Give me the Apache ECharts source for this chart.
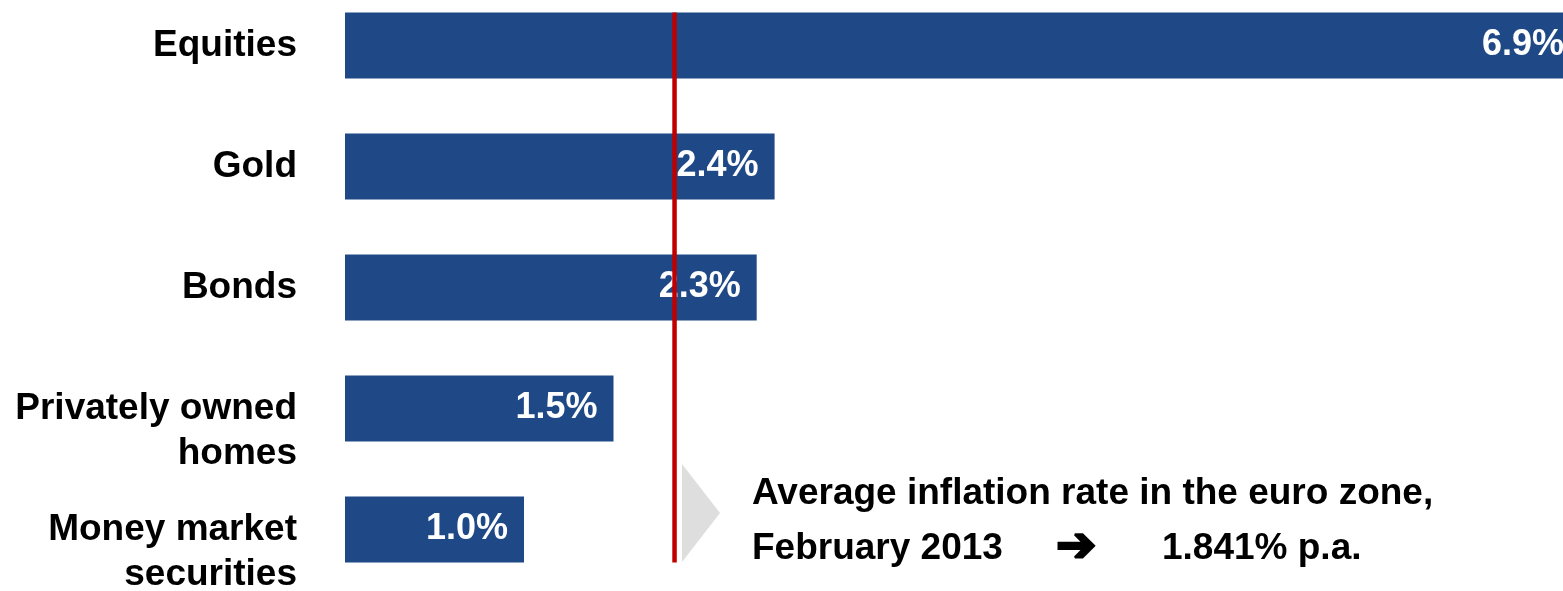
<!DOCTYPE html>
<html>
<head>
<meta charset="utf-8">
<script src="https://cdn.jsdelivr.net/npm/echarts@6/dist/echarts.min.js"></script>
<style>
  html, body { margin: 0; padding: 0; background: #ffffff; }
  #chart { width: 1563px; height: 591px; }
</style>
</head>
<body>
<div id="chart"></div>
<script>
// Average annual returns by asset class (% p.a.)
const categories = ['Equities', 'Gold', 'Bonds', 'Privately owned\nhomes', 'Money market\nsecurities'];
const returns = [6.9, 2.4, 2.3, 1.5, 1.0];

// Euro-zone inflation reference
const inflationRate = 1.841;
const inflationPeriod = 'February 2013';
const inflationTitle = 'Average inflation rate in the euro zone,';

const FONT = '"Liberation Sans", Arial, Helvetica, sans-serif';
const BAR_COLOR = '#1F4986';
const GRID_TOP = -15;
const GRID_H = 605;
const BAR_W = 66;

// The reference line spans from the top of the first bar to the bottom of the last one
const band = GRID_H / categories.length;
const halfBar = BAR_W / 2 / band;
const lineTop = 0.5 - halfBar;
const lineBottom = categories.length - 0.5 + halfBar;

const chart = echarts.init(document.getElementById('chart'), null, { renderer: 'canvas' });

chart.setOption({
  animation: false,
  backgroundColor: '#ffffff',
  grid: {
    left: 345, right: -35, top: GRID_TOP, height: GRID_H,
    containLabel: false, outerBoundsMode: 'none'
  },
  xAxis: {
    type: 'value', min: 0, max: 7, show: false, splitLine: { show: false }
  },
  yAxis: [
    {
      type: 'category',
      inverse: true,
      data: categories,
      axisLine: { show: false },
      axisTick: { show: false },
      axisLabel: {
        interval: 0,
        hideOverlap: false,
        margin: 48,
        color: '#000000',
        fontFamily: FONT,
        fontWeight: 'bold',
        fontSize: 37,
        lineHeight: 45,
        align: 'right',
        // two-line names hang from the bar centre: a blank lead line keeps the first line level with the bar
        formatter: v => v.includes('\n') ? '\n' + v : v
      }
    },
    {
      type: 'value', min: 0, max: categories.length, inverse: true, show: false
    }
  ],
  series: [
    {
      type: 'bar',
      data: returns,
      barWidth: BAR_W,
      itemStyle: { color: BAR_COLOR },
      z: 2,
      label: {
        show: true,
        position: 'insideRight',
        distance: 16,
        color: '#ffffff',
        fontFamily: FONT,
        fontWeight: 'bold',
        fontSize: 36,
        formatter: p => p.value.toFixed(1) + '%'
      }
    },
    {
      type: 'line',
      yAxisIndex: 1,
      data: [[inflationRate, lineTop], [inflationRate, lineBottom]],
      symbol: 'none',
      silent: true,
      z: 5,
      lineStyle: { color: '#C00000', width: 4.5 }
    }
  ],
  graphic: [
    {
      type: 'polygon',
      shape: { points: [[682, 464], [720, 513], [682, 562]] },
      style: { fill: '#DEDEDE' },
      silent: true
    },
    {
      type: 'text', left: 752, top: 475,
      style: { text: inflationTitle, fill: '#000000', font: 'bold 37px ' + FONT }
    },
    {
      type: 'text', left: 752, top: 530,
      style: { text: inflationPeriod, fill: '#000000', font: 'bold 37px ' + FONT }
    },
    {
      type: 'text', x: 1056, y: 549,
      style: {
        text: '\u2794', fill: '#000000', stroke: '#000000', lineWidth: 2.5,
        font: '48px "DejaVu Sans", sans-serif', align: 'left', verticalAlign: 'middle'
      }
    },
    {
      type: 'text', left: 1162, top: 530,
      style: { text: inflationRate + '% p.a.', fill: '#000000', font: 'bold 37px ' + FONT }
    }
  ]
});
</script>
</body>
</html>
